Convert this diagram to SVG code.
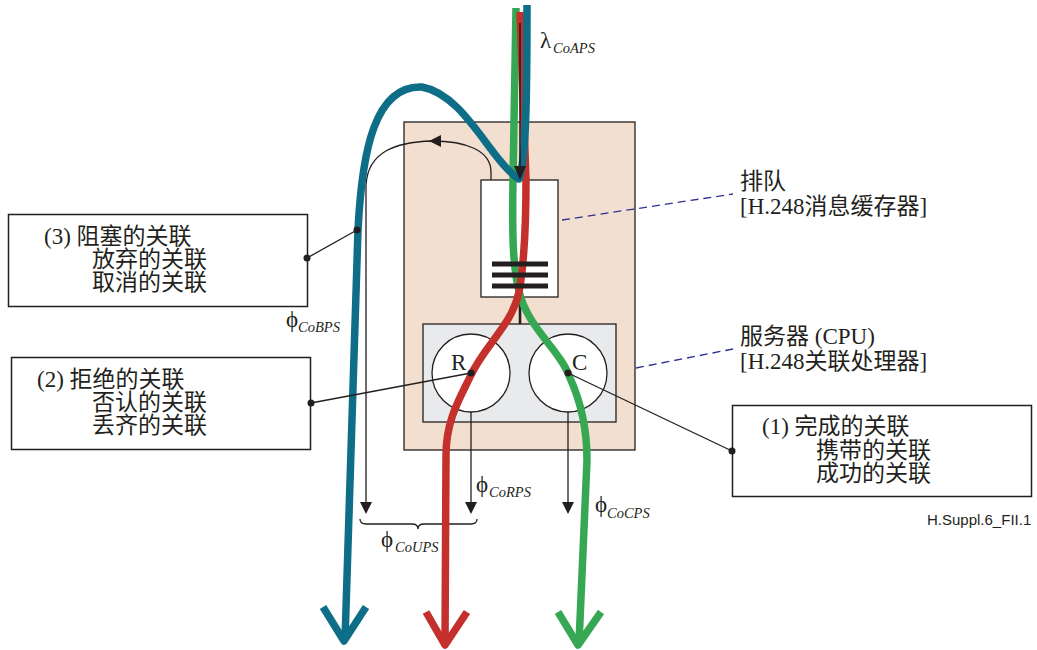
<svg xmlns="http://www.w3.org/2000/svg" width="1037" height="650" viewBox="0 0 1037 650">
<style>
.box{fill:#fff;stroke:#231f20;stroke-width:1.5}
.txt{font-family:"Liberation Serif","Noto Sans CJK SC",serif;font-size:23px;fill:#231f20}
.sym{font-family:"Liberation Serif","DejaVu Serif",serif;font-size:23px;fill:#231f20}
.sub{font-family:"Liberation Serif",serif;font-style:italic;font-size:14.5px;fill:#231f20}
.thin{fill:none;stroke:#231f20;stroke-width:1.3}
.flow{fill:none;stroke-width:7.5;stroke-linecap:butt;stroke-linejoin:round}
.dash{fill:none;stroke:#2e3192;stroke-width:1.3;stroke-dasharray:8 5}
.dot{fill:#231f20}
.ah{fill:#231f20}
</style>
<rect width="1037" height="650" fill="#fff"/>
<g id="server-frame">
<rect x="404" y="122" width="231" height="328" fill="#f3dfcf" stroke="#231f20" stroke-width="1.3"/>
</g>
<g id="queue">
<rect x="481" y="180" width="77" height="117" fill="#fff" stroke="#231f20" stroke-width="1.3"/>
</g>
<g id="cpu">
<rect x="423" y="324" width="193" height="98" fill="#e9eaec" stroke="#231f20" stroke-width="1.3"/>
<circle cx="471" cy="373" r="39" fill="#fff" stroke="#231f20" stroke-width="1.3"/>
<circle cx="568" cy="373" r="39" fill="#fff" stroke="#231f20" stroke-width="1.3"/>
<text class="txt" x="451" y="370">R</text>
<text class="txt" x="572" y="370">C</text>
</g>
<g id="connectors">
<line x1="520" y1="297" x2="520" y2="324" stroke="#231f20" stroke-width="2.6"/>
<path class="thin" d="M491 180 L491 172 C491 150 465 141 432 141 C395 142 368 152 366 185 L366 503"/>
<polygon class="ah" points="429,141 441,135 441,147"/>
<polygon class="ah" points="366,514 360,502 372,502"/>
<line class="thin" x1="471" y1="412" x2="471" y2="503"/>
<polygon class="ah" points="471,514 465,502 477,502"/>
<line class="thin" x1="568" y1="412" x2="568" y2="503"/>
<polygon class="ah" points="568,514 562,502 574,502"/>
<path class="thin" stroke-width="1.5" d="M360 519 Q360 524 366 524 L412 524 Q418 524 418 529 Q418 524 424 524 L471 524 Q477 524 477 519"/>
<path class="dash" d="M562 220 L733 194"/>
<path class="dash" d="M636 368 L733 349"/>
</g>
<g id="flows">
<path class="flow" stroke="#36a853" d="M516 8 L513 180 C512 240 513 270 520 295 C530 330 560 350 570 378 C580 400 587 425 587 460 L579 643"/>
<path class="flow" stroke="#36a853" d="M558 612 L578 645 L601 612"/>
<path class="flow" stroke="#c4302b" d="M520 12 L526 180 C526 230 524 265 519 292 C512 325 485 345 471 375 C460 398 446 420 446 455 L445 645"/>
<path class="flow" stroke="#c4302b" d="M426 612 L445 645 L467 612"/>
<path class="flow" stroke="#0e6e87" stroke-width="8" d="M527 5 C527 100 526 160 519 179 C490 160 465 95 422 87 C375 85 362 150 358 230 L345 640"/>
<path class="flow" stroke="#0e6e87" stroke-width="8" d="M323 607 L344 641 L366 607"/>
</g>
<g id="queue-bars">
<rect x="492" y="261.5" width="56" height="5" fill="#231f20"/>
<rect x="492" y="272.5" width="56" height="5" fill="#231f20"/>
<rect x="492" y="283.5" width="56" height="5" fill="#231f20"/>
</g>
<g id="arrival-arrow">
<line x1="520" y1="23" x2="520" y2="168" stroke="#231f20" stroke-width="1.6"/>
<polygon class="ah" points="520,180 514,166 526,166"/>
</g>
<g id="label-3">
<rect class="box" x="8.5" y="214.5" width="299" height="92"/>
<text class="txt" x="44" y="244">(3) 阻塞的关联</text>
<text class="txt" x="92" y="267">放弃的关联</text>
<text class="txt" x="92" y="290">取消的关联</text>
<line class="thin" x1="307" y1="258" x2="357" y2="230"/>
<circle class="dot" cx="307" cy="258" r="3.5"/>
<circle class="dot" cx="357" cy="230" r="3.5"/>
</g>
<g id="label-2">
<rect class="box" x="11.5" y="357.5" width="299" height="92"/>
<text class="txt" x="37" y="387">(2) 拒绝的关联</text>
<text class="txt" x="92" y="410">否认的关联</text>
<text class="txt" x="92" y="433">丢齐的关联</text>
<line class="thin" x1="311" y1="403" x2="471" y2="373"/>
<circle class="dot" cx="311" cy="403" r="3.5"/>
<circle class="dot" cx="471" cy="373" r="3.5"/>
</g>
<g id="label-1">
<rect class="box" x="732.5" y="405.5" width="299" height="91"/>
<text class="txt" x="762" y="434">(1) 完成的关联</text>
<text class="txt" x="816" y="458">携带的关联</text>
<text class="txt" x="816" y="481">成功的关联</text>
<line class="thin" x1="732" y1="451" x2="568" y2="373"/>
<circle class="dot" cx="732" cy="451" r="3.5"/>
<circle class="dot" cx="568" cy="373" r="3.5"/>
</g>
<g id="queue-label">
<text class="txt" x="740" y="189">排队</text>
<text class="txt" x="740" y="214">[H.248消息缓存器]</text>
</g>
<g id="cpu-label">
<text class="txt" x="740" y="344">服务器 (CPU)</text>
<text class="txt" x="740" y="369">[H.248关联处理器]</text>
</g>
<g id="rate-labels">
<text class="sym" x="540" y="48">λ</text><text class="sub" x="553" y="53">CoAPS</text>
<text class="sym" x="286" y="327">ϕ</text><text class="sub" x="298" y="332">CoBPS</text>
<text class="sym" x="476" y="492">ϕ</text><text class="sub" x="489" y="497">CoRPS</text>
<text class="sym" x="595" y="512">ϕ</text><text class="sub" x="607" y="518">CoCPS</text>
<text class="sym" x="381" y="547">ϕ</text><text class="sub" x="395" y="552">CoUPS</text>
</g>
<text x="927" y="525" font-family="Liberation Sans, sans-serif" font-size="15" fill="#231f20">H.Suppl.6_FII.1</text>
</svg>
